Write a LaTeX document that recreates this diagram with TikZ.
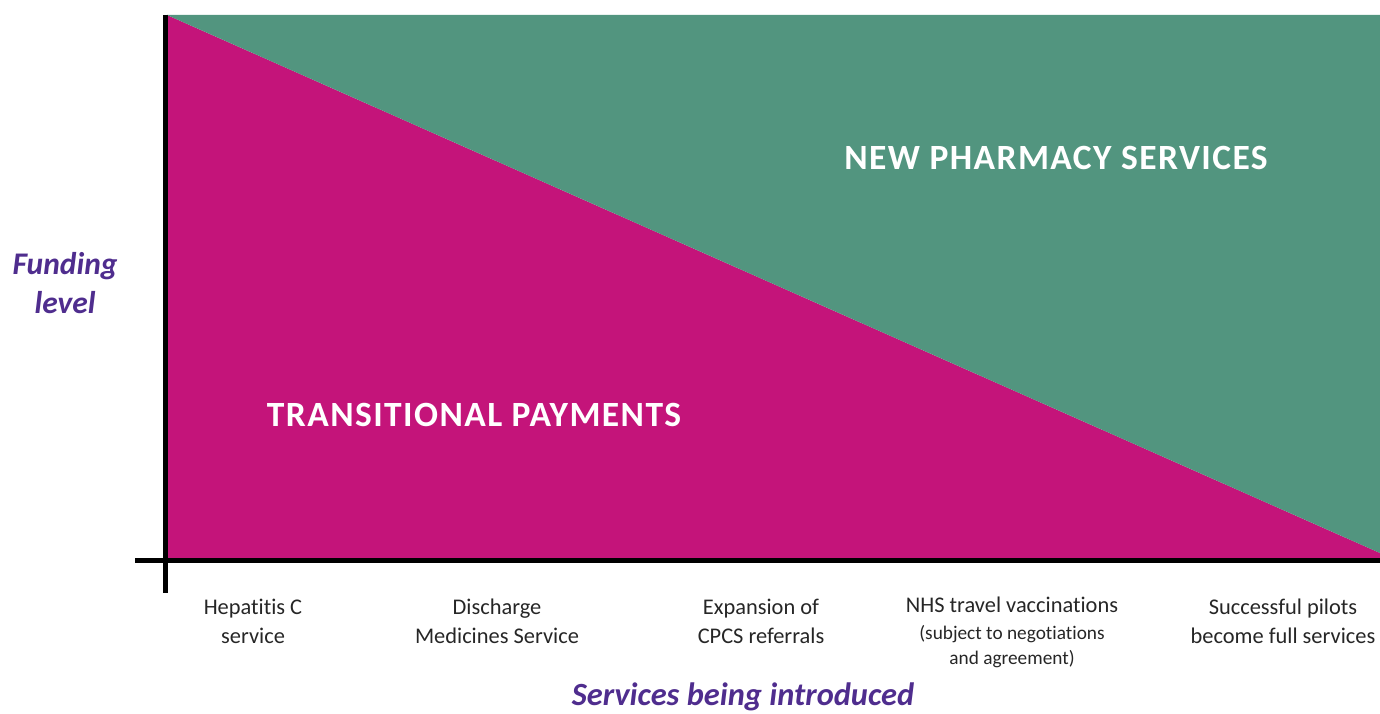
\documentclass[tikz,border=0pt]{standalone}
\usepackage{fontspec}
\setmainfont{Carlito}[Ligatures=NoCommon]
\begin{document}
\begin{tikzpicture}[x=1pt,y=-1pt,
  lbl/.style={inner sep=0pt,align=center,text=black!85,font=\fontsize{22.4}{29}\selectfont},
  axislbl/.style={inner sep=0pt,align=center,text=axispurple,font=\fontsize{31.5}{39}\selectfont\bfseries\itshape},
  region/.style={inner sep=0pt,text=white,font=\fontsize{35.5}{40}\selectfont\bfseries\addfontfeature{LetterSpace=4}},
  axisline/.style={line width=4.5pt,black}]
\definecolor{tpmag}{RGB}{196,20,122}
\definecolor{npgreen}{RGB}{82,149,127}
\definecolor{axispurple}{RGB}{79,45,142}
\useasboundingbox (0,0) rectangle (1380,714);
% corners of the funding area
\coordinate (tl) at (167,15);
\coordinate (tr) at (1380,15);
\coordinate (br) at (1380,559);
\coordinate (bl) at (167,559);
\coordinate (split) at (1380,553);
% transitional payments (below the diagonal) and new services (above it)
\fill[tpmag] (tl) -- (split) -- (br) -- (bl) -- cycle;
\fill[npgreen] (tl) -- (tr) -- (split) -- cycle;
% axes
\coordinate (ytop) at (165.5,15);
\coordinate (ybot) at (165.5,593);
\coordinate (xleft) at (135,560.5);
\coordinate (xright) at (1380,560.5);
\draw[axisline] (ytop) -- (ybot);
\draw[axisline] (xleft) -- (xright);
% region labels
\node[region] (nps) at (1056,158) {NEW PHARMACY SERVICES};
\node[region] (tp) at (474,415) {TRANSITIONAL PAYMENTS};
% axis titles
\node[axislbl] (ylab) at (65,283) {Funding\\level};
\node[axislbl,font=\fontsize{32.4}{39}\selectfont\bfseries\itshape] (xlab) at (743,697) {Services being introduced};
% services along the x axis
\node[lbl] (s1) at (253,621) {Hepatitis C\\service};
\node[lbl] (s2) at (497,621) {Discharge\\Medicines Service};
\node[lbl] (s3) at (761,621) {Expansion of\\CPCS referrals};
\node[lbl,anchor=north] (s4) at (1012,597) {NHS travel vaccinations\\[-2pt]{\fontsize{19.3}{24}\selectfont (subject to negotiations}\\[-4pt]{\fontsize{19.3}{24}\selectfont and agreement)}};
\node[lbl] (s5) at (1283,621) {Successful pilots\\become full services};
\end{tikzpicture}
\end{document}
